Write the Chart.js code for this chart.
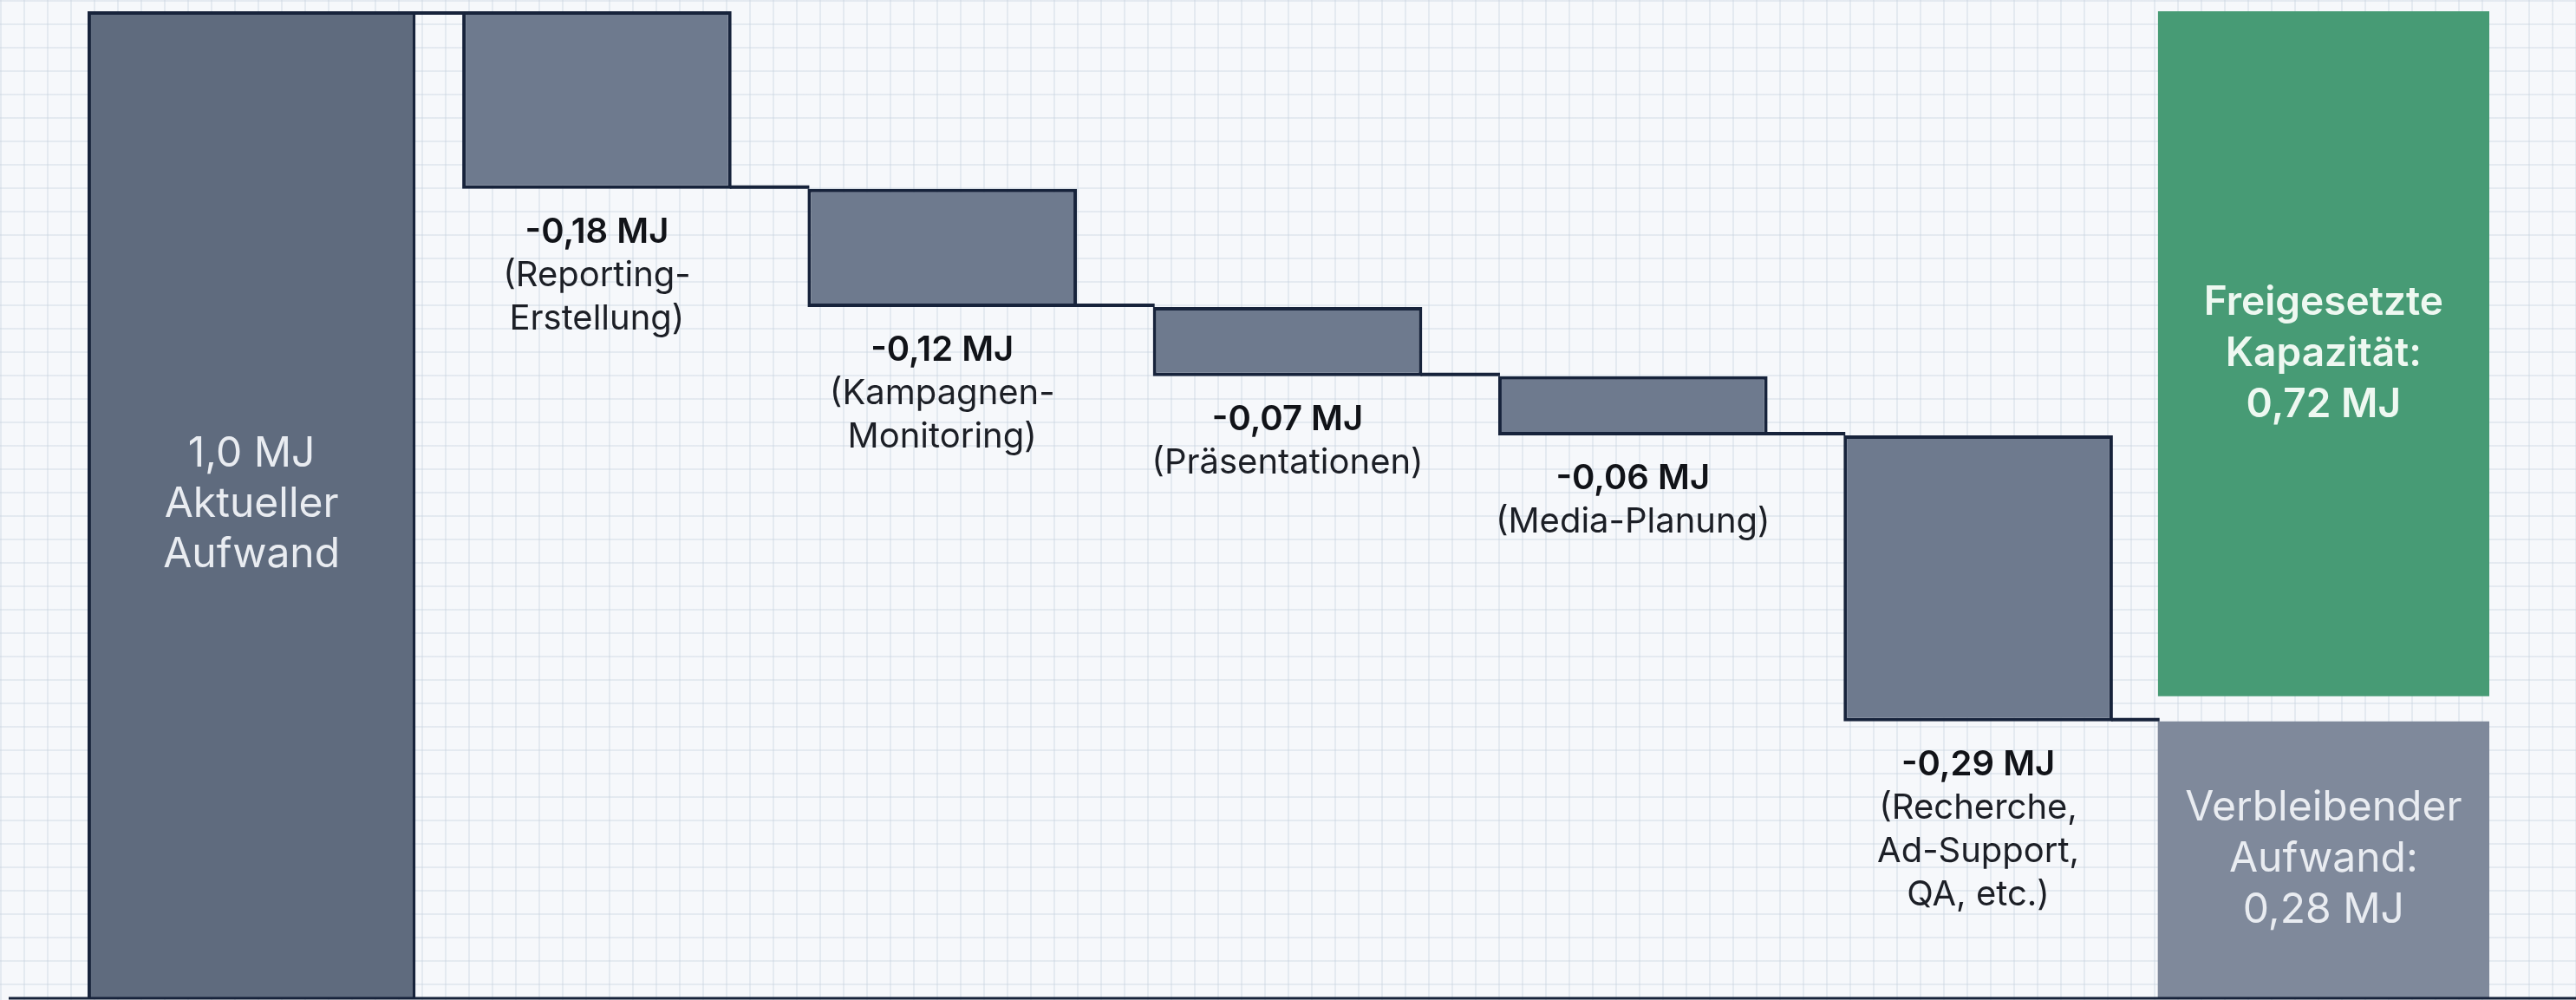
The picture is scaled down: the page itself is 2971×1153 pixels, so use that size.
<!DOCTYPE html>
<html lang="de">
<head>
<meta charset="utf-8">
<title>Aufwand Wasserfall</title>
<script src="https://cdn.jsdelivr.net/npm/chart.js@4.4.1/dist/chart.umd.min.js"></script>
<style>
  html, body { margin: 0; padding: 0; }
  body {
    width: 2971px;
    height: 1153px;
    overflow: hidden;
    background-color: #f6f8fb;
    /* Karopapier im Hintergrund */
    background-image:
      linear-gradient(to right, rgba(200, 210, 222, 0.38) 2px, transparent 2px),
      linear-gradient(to bottom, rgba(200, 210, 222, 0.38) 2px, transparent 2px);
    background-size: 27px 27px;
  }
  #wrap { position: relative; width: 2971px; height: 1153px; }
</style>
</head>
<body>
<div id="wrap"><canvas id="waterfallChart"></canvas></div>
<script>
// Daten aus der Grafik
const kategorien = ['Aktueller Aufwand', 'Reporting-Erstellung', 'Kampagnen-Monitoring', 'Präsentationen', 'Media-Planung', 'Recherche, Ad-Support, QA', 'Ergebnis'];
const startWert = 1.0;
const einsparungen = [0.18, 0.12, 0.07, 0.06, 0.29];
const beschreibungen = [
    ['(Reporting-', 'Erstellung)'],
    ['(Kampagnen-', 'Monitoring)'],
    ['(Präsentationen)'],
    ['(Media-Planung)'],
    ['(Recherche,', 'Ad-Support,', 'QA, etc.)']
];
const freigesetzt = 0.72;
const verbleibend = 0.28;

const NAVY = '#17233b';
const fmt = (v, d) => v.toFixed(d).replace('.', ',') + ' MJ';

// Schwebende Balken für die Einsparungen: [neuer Stand, alter Stand]
let stand = startWert;
const stufen = einsparungen.map(w => {
    const oben = stand;
    stand = +(stand - w).toFixed(2);
    return [stand, oben];
});

const leer = kategorien.map(() => null);
const startDaten = leer.slice(); startDaten[0] = [0, startWert];
const stufenDaten = [null, ...stufen, null];
const freiDaten = leer.slice(); freiDaten[6] = [verbleibend, startWert];
const restDaten = leer.slice(); restDaten[6] = [0, verbleibend];

function mehrzeilig(ctx, zeilen, x, yMitte, zeilenHoehe) {
    const y0 = yMitte - (zeilen.length - 1) * zeilenHoehe / 2;
    zeilen.forEach((z, i) => {
        ctx.font = z.font;
        ctx.fillStyle = z.color;
        ctx.fillText(z.text, x, y0 + i * zeilenHoehe);
    });
}

// Verbindungslinien, Achsenlinie und Beschriftungen
const wasserfallPlugin = {
    id: 'wasserfall',
    afterDatasetsDraw(chart) {
        const ctx = chart.ctx;
        const ys = chart.scales.y;
        const area = chart.chartArea;
        const spalte = [
            chart.getDatasetMeta(0).data[0],
            ...[1, 2, 3, 4, 5].map(i => chart.getDatasetMeta(1).data[i]),
            chart.getDatasetMeta(3).data[6]
        ];
        const niveaus = [startWert, ...stufen.map(s => s[0])];

        ctx.save();
        ctx.strokeStyle = NAVY;
        ctx.lineWidth = 4;
        for (let j = 0; j < spalte.length - 1; j++) {
            const a = spalte[j], b = spalte[j + 1];
            const yy = ys.getPixelForValue(niveaus[j]) + (j === 0 ? 2 : -2);
            ctx.beginPath();
            ctx.moveTo(a.x + a.width / 2 - 2, yy);
            ctx.lineTo(b.x - b.width / 2 + 2, yy);
            ctx.stroke();
        }
        // Grundlinie
        ctx.lineWidth = 3;
        ctx.beginPath();
        ctx.moveTo(10, area.bottom + 1);
        ctx.lineTo(chart.width, area.bottom + 1);
        ctx.stroke();

        ctx.textAlign = 'center';
        ctx.textBaseline = 'middle';

        // Startbalken
        const s = spalte[0];
        mehrzeilig(ctx, [
            { text: fmt(startWert, 1), font: '400 48px Inter', color: '#e9ecf1' },
            { text: 'Aktueller', font: '400 48px Inter', color: '#e9ecf1' },
            { text: 'Aufwand', font: '400 48px Inter', color: '#e9ecf1' }
        ], s.x, (s.y + s.base) / 2, 58);

        // Einsparungen unter den Balken
        stufen.forEach((st, i) => {
            const el = spalte[i + 1];
            const unten = ys.getPixelForValue(st[0]);
            const zeilen = [{ text: '-' + fmt(einsparungen[i], 2), font: '600 40px Inter', color: '#111318' }]
                .concat(beschreibungen[i].map(t => ({ text: t, font: '400 40px Inter', color: '#1c1f26' })));
            mehrzeilig(ctx, zeilen, el.x, unten + 50 + (zeilen.length - 1) * 25, 50);
        });

        // Freigesetzte Kapazität
        const f = chart.getDatasetMeta(2).data[6];
        mehrzeilig(ctx, [
            { text: 'Freigesetzte', font: '600 46px Inter', color: '#eef8f1' },
            { text: 'Kapazität:', font: '600 46px Inter', color: '#eef8f1' },
            { text: fmt(freigesetzt, 2), font: '600 46px Inter', color: '#eef8f1' }
        ], f.x, (f.y + f.base - 29) / 2, 59);

        // Verbleibender Aufwand
        const r = spalte[6];
        mehrzeilig(ctx, [
            { text: 'Verbleibender', font: '400 48px Inter', color: '#e9ecf1' },
            { text: 'Aufwand:', font: '400 48px Inter', color: '#e9ecf1' },
            { text: fmt(verbleibend, 2), font: '400 48px Inter', color: '#e9ecf1' }
        ], r.x, (r.y + r.base) / 2, 59);
        ctx.restore();
    }
};

function zeichnen() {
    new Chart(document.getElementById('waterfallChart').getContext('2d'), {
        type: 'bar',
        data: {
            labels: kategorien,
            datasets: [
                {
                    label: 'Aktueller Aufwand',
                    data: startDaten,
                    backgroundColor: '#5f6b7e',
                    borderColor: NAVY,
                    borderWidth: 4,
                    borderSkipped: 'start',
                    barPercentage: 0.95
                },
                {
                    label: 'Einsparung',
                    data: stufenDaten,
                    backgroundColor: '#6e7a8e',
                    borderColor: NAVY,
                    borderWidth: 4,
                    borderSkipped: false,
                    barPercentage: 0.78
                },
                {
                    label: 'Freigesetzte Kapazität',
                    data: freiDaten,
                    backgroundColor: '#479b75',
                    borderColor: 'rgba(0,0,0,0)',
                    borderWidth: { top: 0, left: 0, right: 0, bottom: 29 },
                    borderSkipped: false,
                    barPercentage: 0.96
                },
                {
                    label: 'Verbleibender Aufwand',
                    data: restDaten,
                    backgroundColor: '#7f899b',
                    borderWidth: 0,
                    barPercentage: 0.96
                }
            ]
        },
        options: {
            responsive: true,
            maintainAspectRatio: false,
            devicePixelRatio: 1,
            animation: false,
            layout: { padding: { left: 91, right: 92, top: 13, bottom: 3 } },
            datasets: { bar: { grouped: false, categoryPercentage: 1 } },
            scales: {
                x: { display: false },
                y: { display: false, min: 0, max: 1.0 }
            },
            plugins: {
                legend: { display: false },
                tooltip: { enabled: false }
            }
        },
        plugins: [wasserfallPlugin]
    });
}

Promise.all([
    document.fonts.load('400 48px Inter'),
    document.fonts.load('600 48px Inter')
]).then(zeichnen, zeichnen);
</script>
</body>
</html>
